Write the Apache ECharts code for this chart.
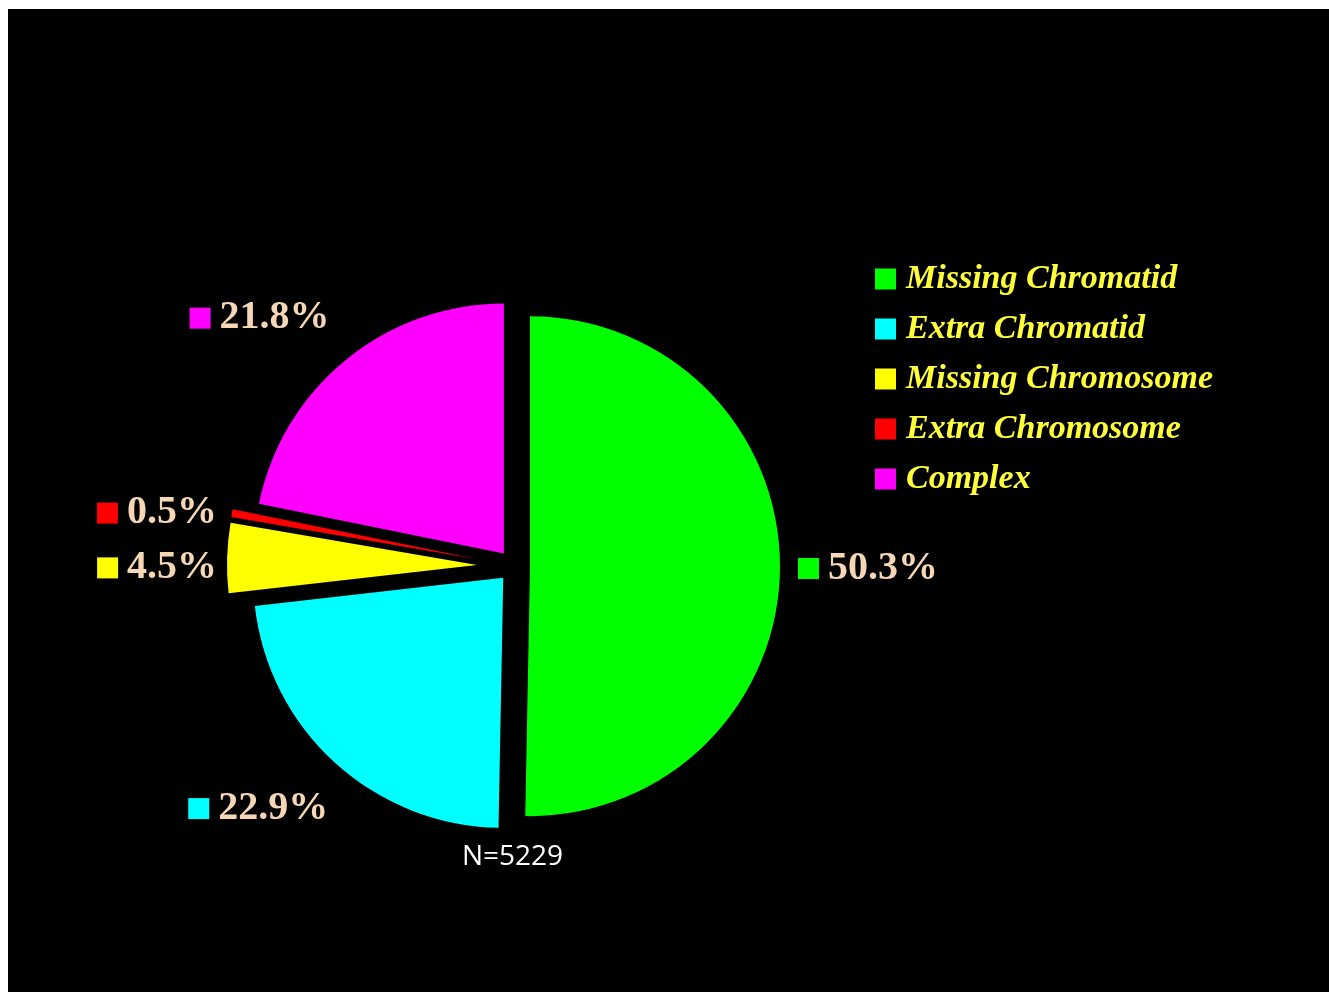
<!DOCTYPE html>
<html>
<head>
<meta charset="utf-8">
<script src="https://cdn.jsdelivr.net/npm/echarts@6/dist/echarts.min.js"></script>
<style>
html,body{margin:0;padding:0;background:#ffffff;}
#c{position:absolute;left:8px;top:9px;width:1321px;height:983px;background:#000000;}
</style>
</head>
<body>
<div id="c"></div>
<script>
// ---- data ----
const categories = ['Missing Chromatid', 'Extra Chromatid', 'Missing Chromosome', 'Extra Chromosome', 'Complex'];
const percentages = [50.3, 22.9, 4.5, 0.5, 21.8];
const sampleSize = 5229;
const colors = ['#00ff00', '#00ffff', '#ffff00', '#ff0000', '#ff00ff'];
// which slices are pulled out further than the others
const pulledFar = [false, false, true, true, false];

// ---- label guide lengths / padding (style only) ----
const guideLen = [0, 62, 0, 0, 54];
const guideLen2 = [13, -40, 5, 10, -23];
const labelPadTop = [0, 0, 20, 0, 0];

const chart = echarts.init(document.getElementById('c'), null, {renderer: 'canvas'});

const rich = {
  t: {
    fontFamily: 'Liberation Serif',
    fontWeight: 'bold',
    fontSize: 40,
    lineHeight: 40,
    color: '#f5d6b5',
    padding: [0, 0, 0, 9]
  }
};
colors.forEach((c, i) => {
  rich['s' + i] = {width: 21, height: 21, backgroundColor: c};
});

function makeSeries(far, offset) {
  return {
    type: 'pie',
    left: 0, top: 0, width: '100%', height: '100%',
    center: [506, 557],
    radius: 250,
    startAngle: 90,
    clockwise: true,
    selectedMode: 'multiple',
    selectedOffset: offset,
    avoidLabelOverlap: false,
    minShowLabelAngle: 0,
    labelLayout: {hideOverlap: false},
    emphasis: {disabled: true},
    animation: false,
    itemStyle: {borderWidth: 0},
    data: categories.map((name, i) => {
      const vis = pulledFar[i] === far;
      return {
        name: name,
        value: percentages[i],
        selected: vis,
        itemStyle: {color: vis ? colors[i] : 'rgba(0,0,0,0)', borderWidth: 0},
        label: {
          show: vis,
          position: 'outside',
          padding: [labelPadTop[i], 0, 0, 0],
          formatter: p => '{s' + p.dataIndex + '|}{t|' + percentages[p.dataIndex].toFixed(1) + '%}',
          rich: rich
        },
        labelLine: {show: false, length: guideLen[i], length2: guideLen2[i]}
      };
    })
  };
}

chart.setOption({
  backgroundColor: '#000000',
  animation: false,
  title: {
    text: 'N=' + sampleSize,
    left: 454,
    top: 834,
    padding: 0,
    textStyle: {fontFamily: 'Open Sans', fontWeight: 'normal', fontSize: 28, color: '#ffffff'}
  },
  legend: {
    orient: 'vertical',
    left: 867,
    top: 253,
    padding: 0,
    itemWidth: 21,
    itemHeight: 21,
    itemGap: 16,
    icon: 'rect',
    selectedMode: false,
    data: categories.map((n, i) => ({name: n, itemStyle: {color: colors[i], opacity: 1}})),
    formatter: n => '{a|' + n + '}',
    textStyle: {
      fontFamily: 'Liberation Serif',
      fontStyle: 'italic',
      fontWeight: 'bold',
      fontSize: 34,
      color: '#ffff3a',
      lineHeight: 30,
      rich: {
        a: {
          fontFamily: 'Liberation Serif',
          fontStyle: 'italic',
          fontWeight: 'bold',
          fontSize: 34,
          color: '#ffff3a',
          lineHeight: 30,
          padding: [0, 0, 0, 5]
        }
      }
    }
  },
  series: [makeSeries(false, 16), makeSeries(true, 37)]
});
</script>
</body>
</html>
